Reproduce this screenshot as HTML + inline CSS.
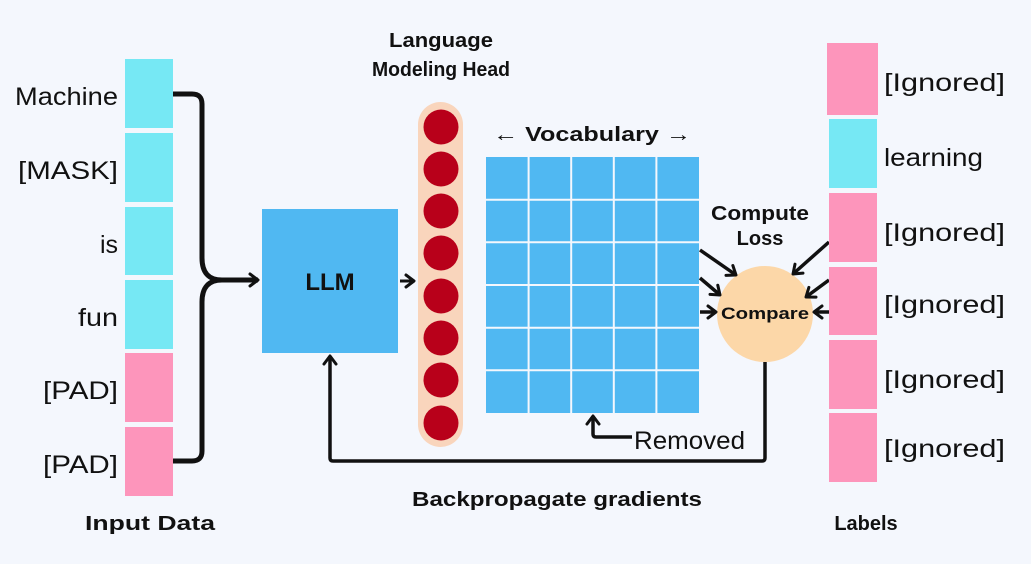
<!DOCTYPE html>
<html><head><meta charset="utf-8"><style>
html,body{margin:0;padding:0;background:#f4f7fd;}
svg{display:block;font-family:"Comic Sans MS","Liberation Sans",sans-serif;}
</style></head><body>
<svg width="1031" height="564" viewBox="0 0 1031 564" xmlns="http://www.w3.org/2000/svg">
<rect width="1031" height="564" fill="#f4f7fd"/>
<defs>
<marker id="ah" markerWidth="14" markerHeight="16" refX="10" refY="8" orient="auto" markerUnits="userSpaceOnUse">
<path d="M2,2 L10,8 L2,14" fill="none" stroke="#111" stroke-width="3" stroke-linecap="round" stroke-linejoin="round"/>
</marker>
</defs>
<g>
<rect x="125" y="59" width="48" height="69" fill="#76e8f4"/>
<rect x="125" y="133" width="48" height="69" fill="#76e8f4"/>
<rect x="125" y="207" width="48" height="68" fill="#76e8f4"/>
<rect x="125" y="280" width="48" height="69" fill="#76e8f4"/>
<rect x="125" y="353" width="48" height="69" fill="#fd95bb"/>
<rect x="125" y="427" width="48" height="69" fill="#fd95bb"/>
</g>
<g font-size="25" fill="#111" text-anchor="end">
<text x="118" y="105" textLength="103" lengthAdjust="spacingAndGlyphs">Machine</text>
<text x="118" y="179" textLength="100" lengthAdjust="spacingAndGlyphs">[MASK]</text>
<text x="118" y="253">is</text>
<text x="118" y="326" textLength="40" lengthAdjust="spacingAndGlyphs">fun</text>
<text x="118" y="399" textLength="75" lengthAdjust="spacingAndGlyphs">[PAD]</text>
<text x="118" y="473" textLength="75" lengthAdjust="spacingAndGlyphs">[PAD]</text>
</g>
<path d="M173,94 L192,94 Q202,94 202,104 L202,258 Q202,280 222,280 L258,280" fill="none" stroke="#111" stroke-width="5" marker-end="url(#ah)"/>
<path d="M173,461 L192,461 Q202,461 202,451 L202,302 Q202,280 222,280" fill="none" stroke="#111" stroke-width="5"/>
<rect x="262" y="209" width="136" height="144" fill="#50b8f2"/>
<text x="330" y="290" font-size="24" font-weight="bold" text-anchor="middle" fill="#111">LLM</text>
<line x1="400" y1="281" x2="414" y2="281" stroke="#111" stroke-width="3" marker-end="url(#ah)"/>
<rect x="418" y="102" width="45" height="345" rx="22.5" fill="#f9d5bc"/>
<g fill="#b8001a">
<circle cx="441" cy="127" r="17.5"/><circle cx="441" cy="169" r="17.5"/>
<circle cx="441" cy="211" r="17.5"/><circle cx="441" cy="253" r="17.5"/>
<circle cx="441" cy="296" r="17.5"/><circle cx="441" cy="338" r="17.5"/>
<circle cx="441" cy="380" r="17.5"/><circle cx="441" cy="423" r="17.5"/>
</g>
<g font-size="20" font-weight="bold" fill="#111" text-anchor="middle">
<text x="441" y="47" textLength="104" lengthAdjust="spacingAndGlyphs">Language</text>
<text x="441" y="76" textLength="138" lengthAdjust="spacingAndGlyphs">Modeling Head</text>
<text x="592" y="141" textLength="198" lengthAdjust="spacingAndGlyphs">← Vocabulary →</text>
<text x="760" y="220" textLength="98" lengthAdjust="spacingAndGlyphs">Compute</text>
<text x="760" y="245">Loss</text>
<text x="557" y="506" textLength="290" lengthAdjust="spacingAndGlyphs">Backpropagate gradients</text>
<text x="150" y="530" textLength="130" lengthAdjust="spacingAndGlyphs">Input Data</text>
<text x="866" y="530">Labels</text>
</g>
<rect x="486" y="157" width="213" height="256" fill="#50b8f2"/>
<g stroke="#f4f7fd" stroke-width="2">
<line x1="528.6" y1="157" x2="528.6" y2="413"/><line x1="571.2" y1="157" x2="571.2" y2="413"/>
<line x1="613.8" y1="157" x2="613.8" y2="413"/><line x1="656.4" y1="157" x2="656.4" y2="413"/>
<line x1="486" y1="199.7" x2="699" y2="199.7"/><line x1="486" y1="242.3" x2="699" y2="242.3"/>
<line x1="486" y1="285" x2="699" y2="285"/><line x1="486" y1="327.7" x2="699" y2="327.7"/>
<line x1="486" y1="370.3" x2="699" y2="370.3"/>
</g>
<circle cx="765" cy="314" r="48" fill="#fcd7a8"/>
<text x="765" y="319" font-size="17" font-weight="bold" text-anchor="middle" fill="#111" textLength="88" lengthAdjust="spacingAndGlyphs">Compare</text>
<g stroke="#111" stroke-width="3.5" fill="none">
<line x1="700" y1="250" x2="736" y2="275" marker-end="url(#ah)"/>
<line x1="700" y1="278" x2="720" y2="295" marker-end="url(#ah)"/>
<line x1="700" y1="312" x2="716" y2="312" marker-end="url(#ah)"/>
<line x1="829" y1="242" x2="793" y2="274" marker-end="url(#ah)"/>
<line x1="829" y1="280" x2="806" y2="297" marker-end="url(#ah)"/>
<line x1="829" y1="312" x2="814" y2="312" marker-end="url(#ah)"/>
<path d="M765,362 L765,458 Q765,461 762,461 L333,461 Q330,461 330,458 L330,356" marker-end="url(#ah)"/>
<path d="M632,437 L596,437 Q593,437 593,434 L593,416" marker-end="url(#ah)"/>
</g>
<text x="634" y="449" font-size="25" fill="#111" textLength="111" lengthAdjust="spacingAndGlyphs">Removed</text>
<g>
<rect x="827" y="43" width="51" height="72" fill="#fd95bb"/>
<rect x="829" y="119" width="48" height="69" fill="#76e8f4"/>
<rect x="829" y="193" width="48" height="69" fill="#fd95bb"/>
<rect x="829" y="267" width="48" height="68" fill="#fd95bb"/>
<rect x="829" y="340" width="48" height="69" fill="#fd95bb"/>
<rect x="829" y="413" width="48" height="69" fill="#fd95bb"/>
</g>
<g font-size="25" fill="#111">
<text x="884" y="91" textLength="121" lengthAdjust="spacingAndGlyphs">[Ignored]</text>
<text x="884" y="166" textLength="99" lengthAdjust="spacingAndGlyphs">learning</text>
<text x="884" y="241" textLength="121" lengthAdjust="spacingAndGlyphs">[Ignored]</text>
<text x="884" y="313" textLength="121" lengthAdjust="spacingAndGlyphs">[Ignored]</text>
<text x="884" y="388" textLength="121" lengthAdjust="spacingAndGlyphs">[Ignored]</text>
<text x="884" y="457" textLength="121" lengthAdjust="spacingAndGlyphs">[Ignored]</text>
</g>
</svg>
</body></html>
